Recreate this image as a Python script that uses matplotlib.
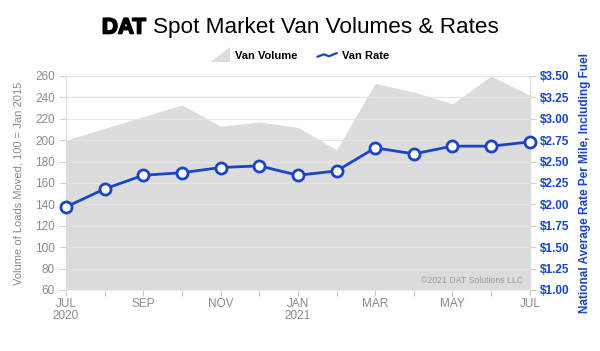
import matplotlib
matplotlib.use("Agg")
import matplotlib.pyplot as plt
from matplotlib.lines import Line2D
from matplotlib.patches import Polygon
from matplotlib.legend_handler import HandlerBase
import matplotlib.patheffects as pe
import numpy as np

months = ["Jul 2020", "Aug 2020", "Sep 2020", "Oct 2020", "Nov 2020", "Dec 2020",
          "Jan 2021", "Feb 2021", "Mar 2021", "Apr 2021", "May 2021", "Jun 2021", "Jul 2021"]
van_volume = [200, 211, 222, 233, 213, 217, 212, 191, 253, 245, 234, 260, 242]
van_rate = [1.97, 2.18, 2.34, 2.37, 2.43, 2.45, 2.34, 2.39, 2.66, 2.59, 2.68, 2.68, 2.73]
tick_labels = ["JUL\n2020", "SEP", "NOV", "JAN\n2021", "MAR", "MAY", "JUL"]
left_ticks = list(range(60, 261, 20))
right_ticks = [1.00, 1.25, 1.50, 1.75, 2.00, 2.25, 2.50, 2.75, 3.00, 3.25, 3.50]

FONT = "Liberation Sans"
plt.rcParams['font.family'] = [FONT, 'DejaVu Sans']
GRAY = "#8a8a8a"
BLUE = "#1a44c9"
FILL = "#dcdcdc"

fig = plt.figure(figsize=(6.0, 3.51), dpi=100)
ax = fig.add_axes([0.11, 0.174, 0.773, 0.6095])
x = np.arange(len(months))

ax.fill_between(x, 60, van_volume, color=FILL, lw=0, zorder=1)
ax.set_xlim(0, len(months) - 1)
ax.set_ylim(60, 260)
ax.set_yticks(left_ticks)
ax.tick_params(axis='y', colors="#d0d0d0", labelcolor=GRAY, labelsize=8.5, length=5, width=0.8, pad=3)
ax.grid(axis='y', color="#e4e4e4", lw=0.8, zorder=2)
ax.set_axisbelow(False)
for s in ["top", "bottom"]:
    ax.spines[s].set_visible(False)
for s in ["left", "right"]:
    ax.spines[s].set_color("#dddddd")
    ax.spines[s].set_linewidth(0.8)
ax.set_xticks(x[::2])
ax.set_xticklabels(tick_labels, color=GRAY, fontsize=8.5, linespacing=1.0)
ax.set_xticks(x, minor=True)
ax.tick_params(axis='x', which='both', colors="#cccccc", labelcolor=GRAY, length=4, width=0.8, pad=2)
ax.set_ylabel("Volume of Loads Moved, 100 = Jan 2015", color=GRAY, fontsize=8, labelpad=8)

ax2 = ax.twinx()
ax2.set_ylim(1.0, 3.5)
ax2.set_yticks(right_ticks)
ax2.set_yticklabels([f"${v:.2f}" for v in right_ticks], color=BLUE, fontsize=8.5, fontweight='bold')
ax2.tick_params(axis='y', colors="#d0d0d0", labelcolor=BLUE, length=4, width=0.8, pad=3)
for s in ax2.spines.values():
    s.set_visible(False)
ax2.plot(x, van_rate, color=BLUE, lw=2.0, marker='o', markersize=8,
         markerfacecolor='white', markeredgecolor=BLUE, markeredgewidth=2.0, zorder=5, clip_on=False)
ax2.set_ylabel("National Average Rate Per Mile, Including Fuel", color=BLUE, fontsize=8.5,
               fontweight='bold', labelpad=7)

ax.text(0.985, 0.045, "\u00a92021 DAT Solutions LLC", transform=ax.transAxes, ha='right', va='center',
        fontsize=6.3, color="#9a9a9a", zorder=6)

# Title
fig.text(146 / 600, 1 - 28 / 351, "DAT", ha='right', va='center', fontsize=16, fontweight='bold',
         color='black', path_effects=[pe.withStroke(linewidth=1.2, foreground='black')])
fig.text(153 / 600, 1 - 28 / 351, "Spot Market Van Volumes & Rates", ha='left', va='center',
         fontsize=16.2, color='black')

# Legend
class TriHandler(HandlerBase):
    def create_artists(self, legend, orig_handle, xd, yd, w, h, fontsize, trans):
        p = Polygon([[xd, yd - 2], [xd + w, yd - 2], [xd + w, yd + h * 1.6]], closed=True,
                    facecolor=FILL, edgecolor='none', transform=trans)
        return [p]

class WaveHandler(HandlerBase):
    def create_artists(self, legend, orig_handle, xd, yd, w, h, fontsize, trans):
        xs = np.array([0, 0.33, 0.6, 1.0]) * w + xd
        ys = np.array([0.3, 0.6, 0.35, 0.75]) * h + yd
        l = Line2D(xs, ys, color=BLUE, lw=1.6, transform=trans)
        return [l]

h1 = Polygon([[0, 0], [1, 0], [1, 1]])
h2 = Line2D([0], [0])
fig.legend([h1, h2], ["Van Volume", "Van Rate"], handler_map={Polygon: TriHandler(), Line2D: WaveHandler()},
           loc='center', bbox_to_anchor=(300 / 600, 1 - 56 / 351), ncol=2, frameon=False,
           prop={'weight': 'bold', 'size': 8}, handlelength=1.7, handletextpad=0.5, columnspacing=1.8)

fig.savefig("out.png", dpi=100, facecolor='white')
